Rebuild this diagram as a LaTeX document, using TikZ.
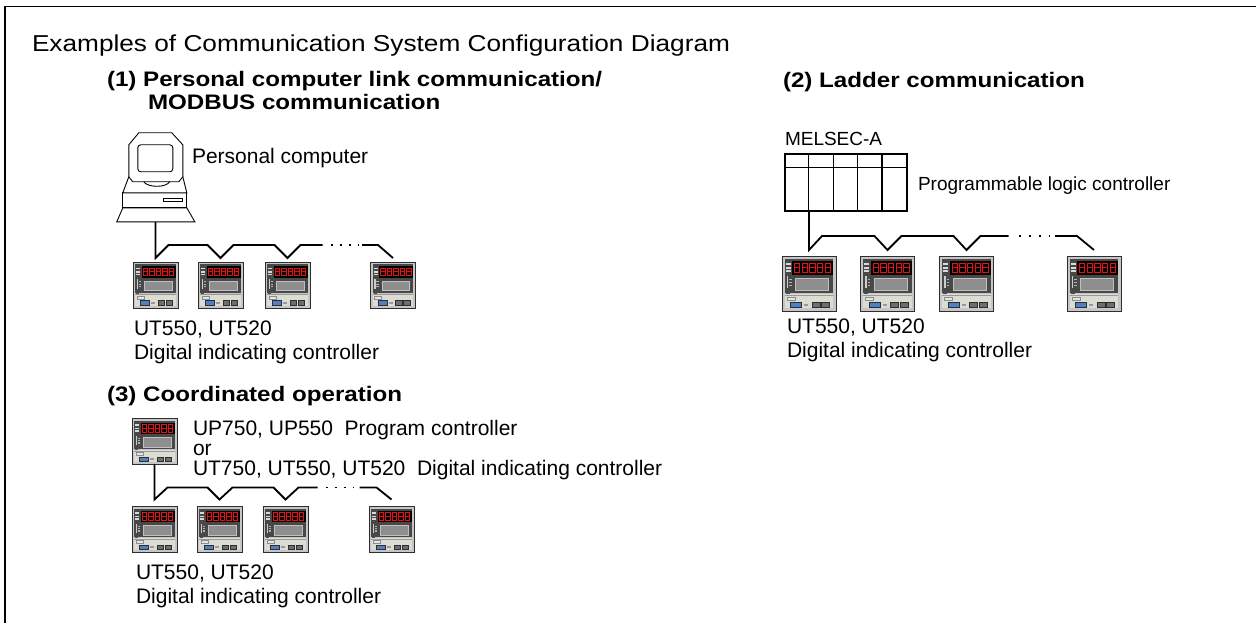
\documentclass[tikz,border=0pt]{standalone}
\usepackage{fontspec}
\setmainfont{Liberation Sans}
\newfontfamily\titlefont[FakeStretch=1.14]{Liberation Sans}
\newfontfamily\headfont[FakeStretch=1.15]{Liberation Sans}
\usetikzlibrary{calc}
\definecolor{ctrlframe}{HTML}{C6C6C6}
\definecolor{ctrlout}{HTML}{2E2E2E}
\definecolor{ctrlface}{HTML}{484848}
\definecolor{ledred}{HTML}{E81010}
\definecolor{lcdgray}{HTML}{8E8E8E}
\definecolor{panelcol}{HTML}{DCDCD2}
\definecolor{btnblue}{HTML}{4F7FC8}
\definecolor{btngray}{HTML}{6E6E6E}
\tikzset{
  lbl/.style={anchor=base west, inner sep=0pt, outer sep=0pt, font=\fontsize{21}{25}\selectfont},
  smalllbl/.style={anchor=base west, inner sep=0pt, outer sep=0pt, font=\fontsize{19}{23}\selectfont},
  headlbl/.style={anchor=base west, inner sep=0pt, outer sep=0pt, font=\headfont\bfseries\fontsize{21}{25}\selectfont},
  titlelbl/.style={anchor=base west, inner sep=0pt, outer sep=0pt, font=\titlefont\fontsize{23}{27}\selectfont},
  ctrlnode/.style={inner sep=0pt, outer sep=0pt, minimum width=45pt, minimum height=46pt},
  bigctrlnode/.style={inner sep=0pt, outer sep=0pt, minimum width=54pt, minimum height=55pt},
  bus/.style={line width=1.8pt, line join=miter},
  busdots/.style={line width=1.6pt, dash pattern=on 2.2pt off 6.8pt},
  bigbusdots/.style={line width=1.6pt, dash pattern=on 2.2pt off 7.8pt},
  pcline/.style={line width=0.9pt, fill=white},
}
\newcommand\ctrlicon[3]{%
\begin{scope}[shift={(#1.north west)},xscale=#2,yscale=#3]
  \fill[ctrlframe] (0,0) rectangle (1,1);
  \fill[ctrlface] (0.05,0.05) rectangle (0.95,0.67);
  \fill[black] (0.19,0.09) rectangle (0.95,0.34);
  \foreach \i in {0,...,4}{
    \draw[ledred,line width=0.8pt] (0.23+\i*0.142,0.13) rectangle ++(0.1,0.17);
    \draw[ledred,line width=0.8pt] (0.23+\i*0.142,0.215) -- ++(0.1,0);
  }
  \fill[white!85!black] (0.07,0.13) rectangle (0.16,0.16);
  \fill[white!85!black] (0.07,0.2) rectangle (0.16,0.23);
  \fill[white!85!black] (0.07,0.26) rectangle (0.16,0.29);
  \fill[white!80!black] (0.085,0.37) rectangle (0.12,0.58);
  \foreach \j in {0.42,0.47,0.52}{\fill[white!70!black] (0.13,\j) rectangle (0.18,\j+0.025);}
  \fill[lcdgray] (0.25,0.41) rectangle (0.86,0.62);
  \draw[white!75!black,line width=0.4pt] (0.25,0.41) rectangle (0.86,0.62);
  \fill[panelcol] (0.05,0.69) rectangle (0.95,0.95);
  \draw[white!60!black,line width=0.4pt] (0.05,0.705) -- (0.95,0.705);
  \fill[black!70] (0.07,0.66) rectangle (0.14,0.69);
  \draw[white!55!black,line width=0.4pt,fill=white!90!black] (0.09,0.74) rectangle (0.24,0.8);
  \draw[ctrlout,line width=0.4pt,fill=btnblue] (0.16,0.84) rectangle (0.36,0.93);
  \fill[white!60!black] (0.41,0.865) rectangle (0.49,0.905);
  \draw[ctrlout,line width=0.4pt,fill=btngray] (0.55,0.84) rectangle (0.7,0.93);
  \draw[ctrlout,line width=0.4pt,fill=btngray] (0.73,0.84) rectangle (0.88,0.93);
  \draw[ctrlout,line width=0.9pt] (0,0) rectangle (1,1);
\end{scope}}
\begin{document}
\begin{tikzpicture}[x=1pt,y=-1pt]
\useasboundingbox (0,0) rectangle (1256,623);
\fill[white] (0,0) rectangle (1256,623);
\draw[line width=1.3pt] (5,623) -- (5,6.5) -- (1256,6.5);

% titles
\node[titlelbl] (title) at (32,52) {Examples of Communication System Configuration Diagram};
\node[headlbl] (h1a) at (107,87) {(1) Personal computer link communication/};
\node[headlbl] (h1b) at (148,110) {MODBUS communication};
\node[headlbl] (h2) at (783,88) {(2) Ladder communication};
\node[headlbl] (h3) at (107,401) {(3) Coordinated operation};

% ---------- section 1 ----------
\node[inner sep=0pt, minimum width=78pt, minimum height=89pt] (pc) at (156,177.5) {};
\begin{scope}[shift={(pc.north west)}]
  \draw[pcline] (6,75) -- (70,75) -- (78,89) -- (0,89) -- cycle;
  \draw[pcline] (6,60) rectangle (70,75);
  \draw[line width=0.9pt] (47,66) rectangle (66,69);
  \draw[pcline] (12,44) -- (6,60) -- (70,60) -- (66,44) -- cycle;
  \draw[pcline] (22,0) -- (55,0) -- (66,12) -- (66,44) -- (62,49) -- (16,49) -- (12,44) -- (12,12) -- cycle;
  \draw[pcline, rounded corners=3pt] (21,12) rectangle (56,39);
  \draw[line width=0.9pt] (27,49) .. controls (31,55) and (49,55) .. (53,49);
\end{scope}
\node[lbl] (pclbl) at (192,164) {Personal computer};

\node[ctrlnode] (c11) at (155.5,285) {};
\node[ctrlnode] (c12) at (220.5,285) {};
\node[ctrlnode] (c13) at (287.5,285) {};
\node[ctrlnode] (c14) at (393,285) {};
\ctrlicon{c11}{45}{46}\ctrlicon{c12}{45}{46}\ctrlicon{c13}{45}{46}\ctrlicon{c14}{45}{46}
\draw[bus] (pc.south -| c11.north) -- ($(c11.north)+(0,-4)$) -- ++(13,-13)
  -- ($(c12.north)+(-13,-17)$) -- ++(13,13) -- ++(13,-13)
  -- ($(c13.north)+(-13,-17)$) -- ++(13,13) -- ++(13,-13) -- ++(22,0) coordinate (b1e);
\draw[busdots] ($(b1e)+(8,0)$) -- ++(28,0);
\draw[bus] ($(c14.north)+(-31,-17)$) -- ++(16,0) -- ($(c14.north)+(0,-4)$);
\node[lbl] (s1a) at (134,335) {UT550, UT520};
\node[lbl] (s1b) at (134,359) {Digital indicating controller};

% ---------- section 2 ----------
\node[smalllbl] (mel) at (785,146) {MELSEC-A};
\node[draw, line width=1.3pt, inner sep=0pt, minimum width=122pt, minimum height=57pt] (plc) at (846,182.5) {};
\draw[line width=1.3pt] ($(plc.north west)+(0,14)$) -- ($(plc.north east)+(0,14)$);
\foreach \k in {1,...,4}{\draw[line width=1.3pt] ($(plc.north west)+(24.4*\k,0)$) -- ($(plc.south west)+(24.4*\k,0)$);}
\node[smalllbl] (plclbl) at (918,190) {Programmable logic controller};

\node[bigctrlnode] (c21) at (809,283.5) {};
\node[bigctrlnode] (c22) at (887.5,283.5) {};
\node[bigctrlnode] (c23) at (966.5,283.5) {};
\node[bigctrlnode] (c24) at (1094,283.5) {};
\ctrlicon{c21}{54}{55}\ctrlicon{c22}{54}{55}\ctrlicon{c23}{54}{55}\ctrlicon{c24}{54}{55}
\draw[bus] (plc.south -| c21.north) -- ($(c21.north)+(0,-6)$) -- ++(13,-14)
  -- ($(c22.north)+(-13,-20)$) -- ++(13,14) -- ++(14,-14)
  -- ($(c23.north)+(-13,-20)$) -- ++(13,14) -- ++(14,-14) -- ++(28,0) coordinate (b2e);
\draw[bigbusdots] ($(b2e)+(10,0)$) -- ++(31,0);
\draw[bus] ($(c24.north)+(-39,-20)$) -- ++(22,0) -- ($(c24.north)+(0,-6)$);
\node[lbl] (s2a) at (787,333) {UT550, UT520};
\node[lbl] (s2b) at (787,357) {Digital indicating controller};

% ---------- section 3 ----------
\node[ctrlnode] (ct) at (154.5,441.5) {};
\ctrlicon{ct}{45}{46}
\node[lbl] (up) at (193,435) {UP750, UP550\ \ Program controller};
\node[lbl] (or) at (193,455) {or};
\node[lbl] (ut) at (193,475) {UT750, UT550, UT520\ \ Digital indicating controller};

\node[ctrlnode] (c31) at (154.5,529.5) {};
\node[ctrlnode] (c32) at (219.5,529.5) {};
\node[ctrlnode] (c33) at (285.5,529.5) {};
\node[ctrlnode] (c34) at (391.5,529.5) {};
\ctrlicon{c31}{45}{46}\ctrlicon{c32}{45}{46}\ctrlicon{c33}{45}{46}\ctrlicon{c34}{45}{46}
\draw[bus] (ct.south) -- ($(c31.north)+(0,-7)$) -- ++(13,-12)
  -- ($(c32.north)+(-12,-19)$) -- ++(12,12) -- ++(13,-12)
  -- ($(c33.north)+(-12,-19)$) -- ++(12,12) -- ++(13,-12) -- ++(19,0) coordinate (b3e);
\draw[busdots] ($(b3e)+(8,0)$) -- ++(28,0);
\draw[bus] ($(c34.north)+(-32,-19)$) -- ++(17,0) -- ($(c34.north)+(0,-7)$);
\node[lbl] (s3a) at (136,579) {UT550, UT520};
\node[lbl] (s3b) at (136,603) {Digital indicating controller};
\end{tikzpicture}
\end{document}
